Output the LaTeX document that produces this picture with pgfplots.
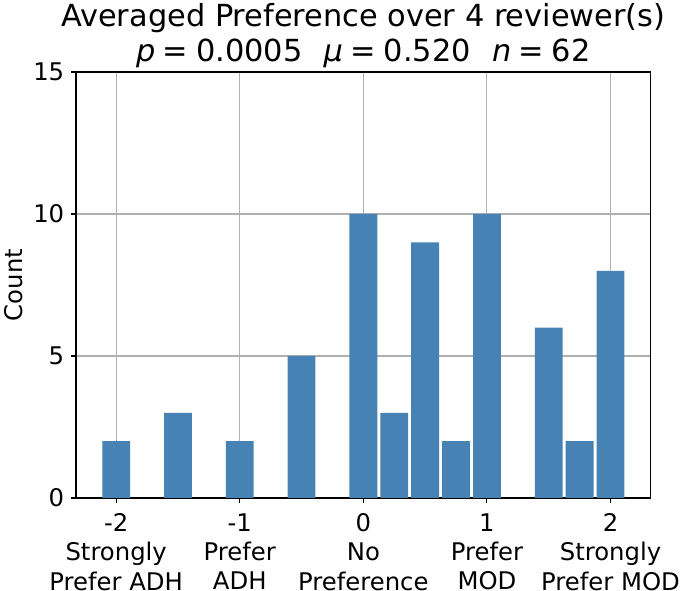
\documentclass[border=0pt]{standalone}
\usepackage{pgfplots}
\pgfplotsset{compat=1.18}
\usepackage{fontspec}
\setmainfont{DejaVu Sans}
\definecolor{barblue}{RGB}{70,130,180}
\definecolor{gridgray}{RGB}{176,176,176}
\begin{document}
\begin{tikzpicture}
\begin{axis}[
    at={(0pt,0pt)}, anchor=south west,
    scale only axis,
    width=574.7pt, height=426pt,
    xmin=-2.325, xmax=2.325,
    ymin=0, ymax=15,
    xtick={-2,-1,0,1,2},
    xticklabels={{-2\\Strongly\\Prefer ADH},{-1\\Prefer\\ADH},{0\\No\\Preference},{1\\Prefer\\MOD},{2\\Strongly\\Prefer MOD}},
    ytick={0,5,10,15},
    xtick pos=bottom, ytick pos=left,
    tick align=outside,
    major tick length=4.9pt,
    every tick/.style={black, line width=1.1pt},
    axis line style={black, line width=1.1pt},
    grid=major,
    major grid style={gridgray, line width=1.1pt},
    /pgf/number format/assume math mode=true,
    xticklabel style={font=\fontsize{24.3}{29.3}\selectfont, align=center, inner sep=0pt, yshift=-10.5pt},
    yticklabel style={font=\fontsize{24.3}{29}\selectfont, inner sep=0pt, xshift=-6.7pt},
    ylabel={Count},
    ylabel style={font=\fontsize{24.3}{29}\selectfont, at={(axis description cs:-0.1088,0.5)}, anchor=center, inner sep=0pt},
    ybar, bar width=0.225, bar shift=0pt,
]
% histogram counts, bins of 0.25
\addplot [fill=barblue, draw=none] coordinates {
    (-2,2) (-1.5,3) (-1,2) (-0.5,5) (0,10) (0.25,3) (0.5,9)
    (0.75,2) (1,10) (1.5,6) (1.75,2) (2,8)
};
\end{axis}
\node[anchor=base, font=\fontsize{30.4}{35}\selectfont] at (287.35pt, 471pt) {Averaged Preference over 4 reviewer(s)};
\node[anchor=base, font=\fontsize{30.4}{35}\selectfont] at (287.35pt, 436pt) {\textit{p}\hspace{0.25em}=\hspace{0.25em}0.0005\hspace{0.7em}\textit{μ}\hspace{0.25em}=\hspace{0.25em}0.520\hspace{0.7em}\textit{n}\hspace{0.25em}=\hspace{0.25em}62};
\path (-76pt,-93pt) rectangle (609pt,498pt);
\end{tikzpicture}
\end{document}
